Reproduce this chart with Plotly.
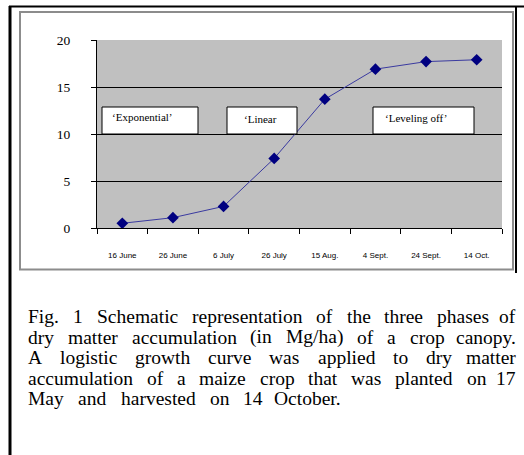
import plotly.graph_objects as go

# data
dates = ["16 June", "26 June", "6 July", "26 July", "15 Aug.", "4 Sept.", "24 Sept.", "14 Oct."]
dry_matter = [0.5, 1.1, 2.3, 7.4, 13.7, 16.9, 17.7, 17.9]
y_ticks = [0, 5, 10, 15, 20]
phase_labels = ["\u2018Exponential\u2019", "\u2018Linear", "\u2018Leveling off\u2019"]

caption_lines = [
    "Fig. 1 Schematic representation of the three phases of",
    "dry matter accumulation (in Mg/ha) of a crop canopy.",
    "A logistic growth curve was applied to dry matter",
    "accumulation of a maize crop that was planted on 17",
    "May and harvested on 14 October.",
]

SERIF = "Liberation Serif"
SANS = "Liberation Sans"

W, H = 524, 455
ML, MR, MT, MB = 97, 22, 40, 227
PW, PH = W - ML - MR, H - MT - MB


def px(x):
    return (x - ML) / PW


def py(y):
    return (H - MB - y) / PH


# Times / Liberation Serif advance widths (per 1000 em)
TIMES = {' ': 250, '.': 250, '(': 333, ')': 333, '/': 278, '1': 500, '4': 500, '7': 500,
         'A': 722, 'F': 556, 'M': 889, 'O': 722, 'S': 556,
         'a': 444, 'b': 500, 'c': 444, 'd': 500, 'e': 444, 'f': 333, 'g': 500, 'h': 500,
         'i': 278, 'k': 500, 'l': 278, 'm': 778, 'n': 500, 'o': 500, 'p': 500, 'r': 333,
         's': 389, 't': 278, 'u': 500, 'v': 500, 'w': 722, 'x': 500, 'y': 500, 'z': 444}


def text_width(s, size):
    return sum(TIMES.get(c, 500) for c in s) * size / 1000


fig = go.Figure()
fig.add_trace(go.Scatter(
    x=dates, y=dry_matter, mode="lines+markers",
    line=dict(color="#3a3aa0", width=1),
    marker=dict(symbol="diamond", size=9, color="#000080"),
    showlegend=False,
))

fig.update_layout(
    width=W, height=H,
    margin=dict(l=ML, r=MR, t=MT, b=MB),
    paper_bgcolor="white",
    plot_bgcolor="#c0c0c0",
    xaxis=dict(
        type="category", range=[-0.5, 7.5], tickson="boundaries",
        ticks="outside", ticklen=5, tickcolor="black", tickwidth=1,
        showline=True, linecolor="black", linewidth=1, showgrid=False,
        tickfont=dict(family=SANS, size=8, color="black"),
        ticklabelstandoff=19,
    ),
    yaxis=dict(
        range=[0, 20], tickvals=y_ticks,
        ticks="outside", ticklen=5, tickcolor="black", tickwidth=1,
        showline=True, linecolor="black", linewidth=1,
        showgrid=True, gridcolor="black", gridwidth=1, zeroline=False,
        tickfont=dict(family=SERIF, size=13.5, color="black"),
        ticklabelstandoff=18,
    ),
)

shapes = [
    # outer frame
    dict(type="line", xref="paper", yref="paper", x0=px(9), x1=px(524), y0=py(6.5), y1=py(6.5),
         line=dict(color="black", width=2)),
    dict(type="line", xref="paper", yref="paper", x0=px(10), x1=px(10), y0=py(6), y1=py(455),
         line=dict(color="black", width=3)),
    dict(type="line", xref="paper", yref="paper", x0=px(516), x1=px(516), y0=py(6), y1=py(273),
         line=dict(color="black", width=2)),
    # chart frame
    dict(type="rect", xref="paper", yref="paper", x0=px(20), x1=px(513), y0=py(12), y1=py(269.5),
         line=dict(color="#8c8c8c", width=2)),
]

# phase boxes
boxes = [(102, 198, 110, 116.5), (227, 297, 242, 119), (373, 474, 383, 117.5)]
annotations = []
for label, (x0, x1, tx, ty) in zip(phase_labels, boxes):
    shapes.append(dict(type="rect", xref="paper", yref="paper", x0=px(x0), x1=px(x1),
                       y0=py(107), y1=py(134), fillcolor="white",
                       line=dict(color="black", width=1), layer="above"))
    annotations.append(dict(text=label, xref="paper", yref="paper", x=px(tx), y=py(ty),
                            xanchor="left", yanchor="middle", showarrow=False,
                            font=dict(family=SERIF, size=11, color="black")))

# caption, justified word by word (image is a little stretched sideways)
CAP_SIZE = 19.5
left = 26
rights = [517.5, 517.5, 517.5, 517.5, 343]
baselines = [323, 343.5, 364, 384.5, 405]
for line, right, base in zip(caption_lines, rights, baselines):
    words = line.split()
    widths = [text_width(w, CAP_SIZE) for w in words]
    gap = (right - left - sum(widths)) / (len(words) - 1)
    x = left
    for i, (w, wd) in enumerate(zip(words, widths)):
        if i == len(words) - 1:
            x_pos, anchor = right, "right"
        else:
            x_pos, anchor = x, "left"
        annotations.append(dict(text=w, xref="paper", yref="paper",
                                x=px(x_pos), y=py(base - 6.5), xanchor=anchor, yanchor="middle",
                                showarrow=False,
                                font=dict(family=SERIF, size=CAP_SIZE, color="black")))
        x += wd + gap

fig.update_layout(shapes=shapes, annotations=annotations)

fig.write_html("out.html", config={"displayModeBar": False},
               post_script="document.body.style.margin='0';")
